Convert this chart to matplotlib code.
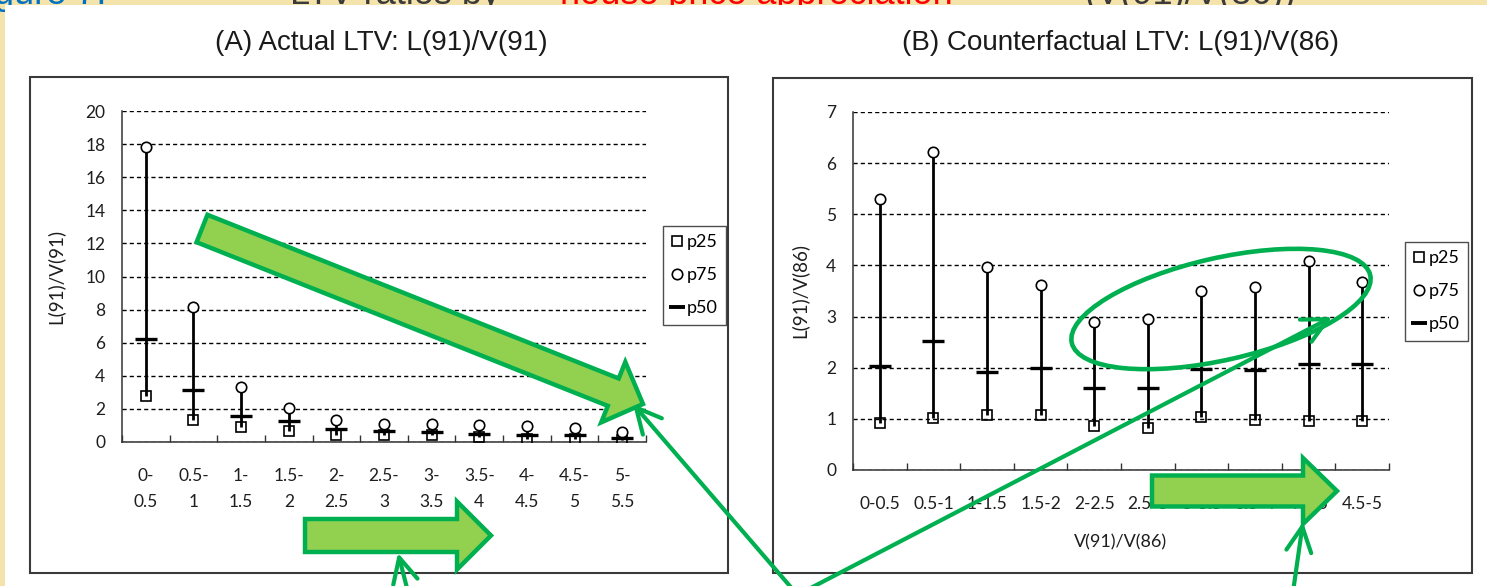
import numpy as np
import matplotlib
matplotlib.use('Agg')
import matplotlib.pyplot as plt
from matplotlib.patches import FancyArrow, Ellipse, Rectangle
from matplotlib.lines import Line2D

W, H = 1487, 586

# panel A: actual LTV by house price bucket
cats_a = ['0-\n0.5', '0.5-\n1', '1-\n1.5', '1.5-\n2', '2-\n2.5', '2.5-\n3',
          '3-\n3.5', '3.5-\n4', '4-\n4.5', '4.5-\n5', '5-\n5.5']
p25_a = [2.75, 1.3, 0.92, 0.65, 0.45, 0.42, 0.42, 0.32, 0.2, 0.2, 0.15]
p50_a = [6.2, 3.15, 1.6, 1.25, 0.78, 0.68, 0.62, 0.48, 0.42, 0.42, 0.27]
p75_a = [17.8, 8.15, 3.3, 2.05, 1.3, 1.1, 1.08, 1.0, 0.94, 0.83, 0.63]

# panel B: counterfactual LTV
cats_b = ['0-0.5', '0.5-1', '1-1.5', '1.5-2', '2-2.5', '2.5-3', '3-3.5',
          '3.5-4', '4-4.5', '4.5-5']
p25_b = [0.92, 1.01, 1.07, 1.07, 0.86, 0.82, 1.04, 0.98, 0.96, 0.96]
p50_b = [2.03, 2.52, 1.92, 2.0, 1.6, 1.6, 1.97, 1.95, 2.08, 2.08]
p75_b = [5.3, 6.22, 3.96, 3.61, 2.9, 2.95, 3.5, 3.58, 4.08, 3.68]

CHART_FONT = ['Lato', 'DejaVu Sans']
TITLE_FONT = ['Liberation Sans Narrow', 'Liberation Sans', 'DejaVu Sans']
GREEN = '#00B050'
LIGHT_GREEN = '#92D050'


def px_box(x0, y0, x1, y1):
    return [x0 / W, 1 - y1 / H, (x1 - x0) / W, (y1 - y0) / H]


def draw_panel(ax, cats, p25, p50, p75, ymax, ystep, xlabel, ylabel, ylab_x, spacing):
    n = len(cats)
    x = np.arange(n)
    ax.vlines(x, p25, p75, color='black', lw=2, zorder=3)
    ax.plot(x, p25, ls='none', marker='s', ms=7.5, mfc='none', mec='black',
            mew=1.2, zorder=4, label='p25')
    ax.plot(x, p75, ls='none', marker='o', ms=7.5, mfc='white', mec='black',
            mew=1.2, zorder=4, label='p75')
    ax.plot(x, p50, ls='none', marker='_', ms=16, mew=2.4, color='black',
            zorder=5, label='p50')

    ax.set_xlim(-0.5, n - 0.5)
    ax.set_xticks(x)
    ax.set_xticklabels(cats, fontsize=12.5, family=CHART_FONT, color='#1e1e1e')
    for t in ax.get_xticklabels():
        t.set_linespacing(spacing)
    ax.set_xticks(np.arange(n + 1) - 0.5, minor=True)
    ax.tick_params(axis='x', which='major', length=0, pad=19)
    ax.tick_params(axis='x', which='minor', direction='in', length=5,
                   width=1, color='#333333')

    ax.set_ylim(0, ymax)
    ax.set_yticks(np.arange(0, ymax + 0.01, ystep))
    ax.set_yticklabels([f'{v:g}' for v in np.arange(0, ymax + 0.01, ystep)],
                       fontsize=12.5, family=CHART_FONT, color='#1e1e1e')
    ax.tick_params(axis='y', length=0, pad=12)
    ax.yaxis.grid(True, ls=(0, (3, 2.2)), color='black', lw=1.0)
    ax.set_axisbelow(True)

    for side in ['top', 'right']:
        ax.spines[side].set_visible(False)
    for side in ['left', 'bottom']:
        ax.spines[side].set_color('#333333')
        ax.spines[side].set_linewidth(1.1)

    ax.set_ylabel(ylabel, fontsize=13.5, family=CHART_FONT, color='#1e1e1e')
    ax.yaxis.set_label_coords(ylab_x, 0.5)
    if xlabel:
        ax.set_xlabel(xlabel, fontsize=13, family=CHART_FONT, color='#1e1e1e')
        ax.xaxis.set_label_coords(0.5, -0.18)
    ax.patch.set_alpha(0)


def add_legend(fig, ax, x0, y0):
    handles = [
        Line2D([], [], ls='none', marker='s', ms=7.5, mfc='none', mec='black', mew=1.2),
        Line2D([], [], ls='none', marker='o', ms=7.5, mfc='white', mec='black', mew=1.2),
        Line2D([], [], ls='none', marker='_', ms=11, mew=2.8, color='black'),
    ]
    leg = ax.legend(handles, ['p25', 'p75', 'p50'], loc='upper left',
                    bbox_to_anchor=(x0 / W, 1 - y0 / H),
                    bbox_transform=fig.transFigure, borderaxespad=0,
                    frameon=True, fancybox=False, edgecolor='#222222',
                    prop={'family': CHART_FONT, 'size': 13},
                    handlelength=0.7, handletextpad=0.15, labelspacing=0.95,
                    borderpad=0.45)
    leg.get_frame().set_linewidth(1.0)


fig = plt.figure(figsize=(W / 100, H / 100), dpi=100)
fig.patch.set_facecolor('#F5E3AC')

# slide background: strip of heading text peeking out above the white sheet
bg = fig.add_axes([0, 0, 1, 1], zorder=-5)
bg.set_xlim(0, W)
bg.set_ylim(H, 0)
bg.axis('off')
heading = [
    (-6, 'gure 7:', '#0070C0'),
    (290, 'LTV ratios by', '#3a3a3a'),
    (560, 'house price appreciation', '#FF0000'),
    (1085, '(V(91)/V(86))', '#3a3a3a'),
]
for hx, txt, col in heading:
    bg.text(hx, 4, txt, color=col, fontsize=26, va='baseline',
            family=TITLE_FONT, zorder=1)
bg.add_patch(Rectangle((5, 5), W, H, facecolor='white', edgecolor='none', zorder=5))
bg.add_patch(Rectangle((30, 77), 698, 496, facecolor='white', edgecolor='#3a3a3a', lw=1.5, zorder=6))
bg.add_patch(Rectangle((773, 78), 699, 495, facecolor='white', edgecolor='#3a3a3a', lw=1.5, zorder=6))

fig.text(381 / W, 1 - 43 / H, '(A) Actual LTV: L(91)/V(91)', ha='center', va='center',
         fontsize=20, family=TITLE_FONT, color='#1a1a1a')
fig.text(1121 / W, 1 - 43 / H, '(B) Counterfactual LTV: L(91)/V(86)', ha='center', va='center',
         fontsize=20, family=TITLE_FONT, color='#1a1a1a')

ax_a = fig.add_axes(px_box(122, 111, 646, 442))
draw_panel(ax_a, cats_a, p25_a, p50_a, p75_a, 20, 2, None, 'L(91)/V(91)', -0.109, 1.75)
add_legend(fig, ax_a, 663, 226)

ax_b = fig.add_axes(px_box(853, 112, 1389, 470))
draw_panel(ax_b, cats_b, p25_b, p50_b, p75_b, 7, 1, 'V(91)/V(86)', 'L(91)/V(86)', -0.084, 1.2)
add_legend(fig, ax_b, 1405, 242)

# green call-outs drawn on top, in pixel coordinates
fg = fig.add_axes([0, 0, 1, 1], zorder=10)
fg.set_xlim(0, W)
fg.set_ylim(H, 0)
fg.axis('off')
fg.patch.set_alpha(0)

block_arrows = [
    # tail x, tail y, tip x, tip y, width, head width, head length
    (202, 228.5, 643, 404, 29.5, 65, 32),
    (305, 535.5, 491, 535.5, 33, 68, 34),
    (1152, 491, 1337, 491, 31, 66, 34),
]
for x0, y0, x1, y1, w, hw, hl in block_arrows:
    fg.add_patch(FancyArrow(x0, y0, x1 - x0, y1 - y0, width=w, head_width=hw,
                            head_length=hl, length_includes_head=True,
                            facecolor=LIGHT_GREEN, edgecolor=GREEN, lw=3.2,
                            joinstyle='miter'))

pointers = [
    ((795, 592), (633, 404)),
    ((803, 592), (1332, 317)),
    ((408, 592), (398, 553)),
    ((1293, 592), (1303, 522)),
]
for start, tip in pointers:
    fg.annotate('', xy=tip, xytext=start,
                arrowprops=dict(arrowstyle='->,head_length=0.9,head_width=0.45',
                                lw=3, color=GREEN, mutation_scale=20,
                                shrinkA=0, shrinkB=0))

fg.add_patch(Ellipse((1221, 309), 306, 102, angle=-12.8, facecolor='none',
                     edgecolor=GREEN, lw=3.3))

fig.savefig('out.png', dpi=100, facecolor=fig.get_facecolor())
